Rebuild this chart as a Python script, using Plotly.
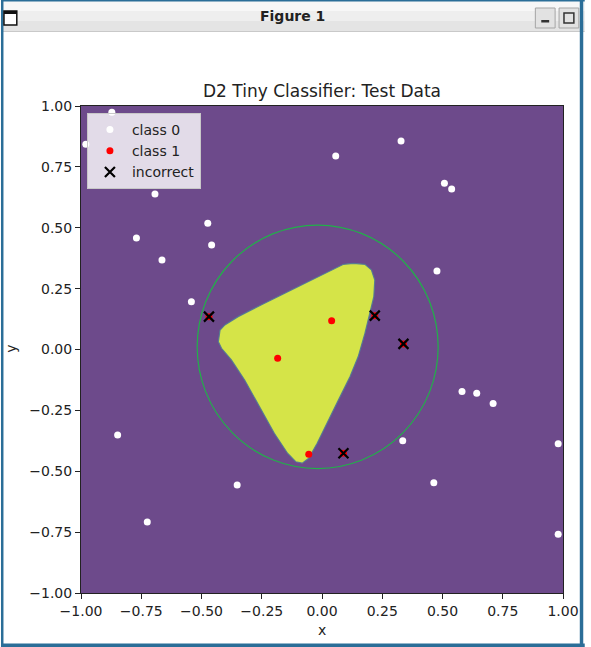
import plotly.graph_objects as go

# ---------------- data ----------------
class0_x = [-0.872, -0.980, 0.057, 0.328, 0.508, 0.538, 0.477, 0.581, 0.642, 0.710,
            0.335, 0.980, 0.464, 0.980, -0.693, -0.474, -0.458, -0.770, -0.664,
            -0.542, -0.848, -0.352, -0.725]
class0_y = [0.974, 0.843, 0.795, 0.856, 0.683, 0.659, 0.322, -0.172, -0.180, -0.222,
            -0.375, -0.387, -0.547, -0.759, 0.639, 0.518, 0.429, 0.458, 0.368,
            0.196, -0.351, -0.556, -0.708]

class1_x = [0.040, -0.184, -0.055, -0.469, 0.219, 0.338, 0.089]
class1_y = [0.118, -0.036, -0.430, 0.135, 0.139, 0.023, -0.426]

incorrect_x = [-0.469, 0.219, 0.338, 0.089]
incorrect_y = [0.135, 0.139, 0.023, -0.426]

# boundary of the predicted class-1 region
region_x = [0.130, 0.178, 0.205, 0.219, 0.215, 0.198, 0.178, 0.150, 0.116, 0.068,
            0.020, -0.020, -0.055, -0.082, -0.109, -0.143, -0.198, -0.260, -0.321,
            -0.376, -0.417, -0.430, -0.423, -0.403, -0.348, -0.253, -0.143, -0.034,
            0.048, 0.089, 0.130]
region_y = [0.354, 0.350, 0.327, 0.285, 0.217, 0.149, 0.066, -0.030, -0.112, -0.207,
            -0.303, -0.385, -0.447, -0.467, -0.461, -0.426, -0.344, -0.235, -0.125,
            -0.043, 0.005, 0.032, 0.080, 0.101, 0.135, 0.183, 0.237, 0.292,
            0.333, 0.350, 0.354]

circle_cx = -0.018
circle_cy = 0.011
circle_r = 0.5

tick_vals = [-1.0, -0.75, -0.5, -0.25, 0.0, 0.25, 0.5, 0.75, 1.0]
tick_text = [f"{v:.2f}".replace("-", "\u2212") for v in tick_vals]

# ---------------- layout geometry ----------------
W, H = 591, 647
L, R, T, B = 81, 22, 106, 54
PW, PH = W - L - R, H - T - B


def PX(x):
    return (x - L) / PW


def PY(y):
    return (H - B - y) / PH


PURPLE = "rgb(109,74,139)"
YELLOW = "rgb(213,228,72)"
FONT = "DejaVu Sans"

fig = go.Figure()

fig.add_trace(go.Scatter(
    x=region_x, y=region_y, mode="lines", fill="toself",
    fillcolor=YELLOW, line=dict(color="rgba(80,120,150,0.9)", width=1.2),
    hoverinfo="skip", showlegend=False))

fig.add_trace(go.Scatter(
    x=class0_x, y=class0_y, mode="markers", name="class 0",
    marker=dict(color="white", size=7, line=dict(width=0))))

fig.add_trace(go.Scatter(
    x=class1_x, y=class1_y, mode="markers", name="class 1",
    marker=dict(color="red", size=7, line=dict(width=0))))

fig.add_trace(go.Scatter(
    x=incorrect_x, y=incorrect_y, mode="markers", name="incorrect",
    marker=dict(symbol="x-thin", size=10, color="black",
                line=dict(width=2.2, color="black"))))

shapes = []
# decision circle
shapes.append(dict(type="circle", xref="x", yref="y",
                   x0=circle_cx - circle_r, x1=circle_cx + circle_r,
                   y0=circle_cy - circle_r, y1=circle_cy + circle_r,
                   line=dict(color="#22b04a", width=1.2), layer="below"))


def rect(x0, y0, x1, y1, fill=None, line=None, lw=0):
    d = dict(type="rect", xref="paper", yref="paper",
             x0=PX(x0), x1=PX(x1), y0=PY(y1), y1=PY(y0), layer="above",
             line=dict(width=lw, color=line or "rgba(0,0,0,0)"))
    if fill:
        d["fillcolor"] = fill
    return d


# window chrome
shapes.append(rect(0, 0, 591, 31, fill="#e4e4e4"))
shapes.append(rect(0, 0, 591, 21, fill="#eeeeee"))
shapes.append(rect(0, 0, 591, 11, fill="#f7f7f7"))
shapes.append(rect(0, 31, 591, 32, fill="#c9c9c9"))
BLUE = "#2b6e98"
shapes.append(rect(0, 0, 591, 1.5, fill=BLUE))
shapes.append(rect(0, 0, 2.5, 647, fill=BLUE))
shapes.append(rect(586, 0, 589.5, 647, fill=BLUE))
shapes.append(rect(0, 643.5, 591, 647, fill=BLUE))
# left icon
shapes.append(rect(3, 11, 16, 25, fill="white", line="#111", lw=1.5))
shapes.append(rect(3, 11, 16, 14, fill="#111"))
# buttons
shapes.append(rect(541, 8, 561, 28, fill="#e2e2e2", line="#a5a5a5", lw=1))
shapes.append(rect(547, 20, 555, 22.5, fill="#333"))
shapes.append(rect(565, 8, 585, 28, fill="#e2e2e2", line="#a5a5a5", lw=1))
shapes.append(rect(570, 13, 580, 23, line="#333", lw=1.5))

annotations = [
    dict(text="<b>Figure 1</b>", xref="paper", yref="paper", x=PX(295), y=PY(16),
         showarrow=False, xanchor="center", yanchor="middle",
         font=dict(family=FONT, size=14, color="#222")),
    dict(text="D2 Tiny Classifier: Test Data", xref="paper", yref="paper",
         x=0.5, y=PY(91), showarrow=False, xanchor="center", yanchor="middle",
         font=dict(family=FONT, size=17, color="#222")),
    dict(text="x", xref="paper", yref="paper", x=PX(325), y=PY(630),
         showarrow=False, xanchor="center", yanchor="middle",
         font=dict(family=FONT, size=14, color="#222")),
    dict(text="y", xref="paper", yref="paper", x=PX(10), y=PY(349),
         showarrow=False, xanchor="center", yanchor="middle", textangle=-90,
         font=dict(family=FONT, size=14, color="#222")),
]

axis_common = dict(
    range=[-1, 1], tickmode="array", tickvals=tick_vals, ticktext=tick_text,
    showgrid=False, zeroline=False, showline=True, linecolor="#222",
    linewidth=1, mirror=True, ticks="outside", ticklen=5, tickcolor="#222",
    tickfont=dict(family=FONT, size=14, color="#222"), fixedrange=True)

fig.update_layout(
    width=W, height=H,
    margin=dict(l=L, r=R, t=T, b=B, pad=0),
    paper_bgcolor="white", plot_bgcolor=PURPLE,
    xaxis=axis_common, yaxis=axis_common,
    shapes=shapes, annotations=annotations,
    showlegend=True,
    legend=dict(x=PX(87), y=PY(113), xanchor="left", yanchor="top",
                bgcolor="rgba(255,255,255,0.8)", bordercolor="#c8c8c8",
                borderwidth=1, font=dict(family=FONT, size=14, color="#222"),
                itemwidth=34, tracegroupgap=0),
    font=dict(family=FONT),
)

fig.write_html("out.html")
